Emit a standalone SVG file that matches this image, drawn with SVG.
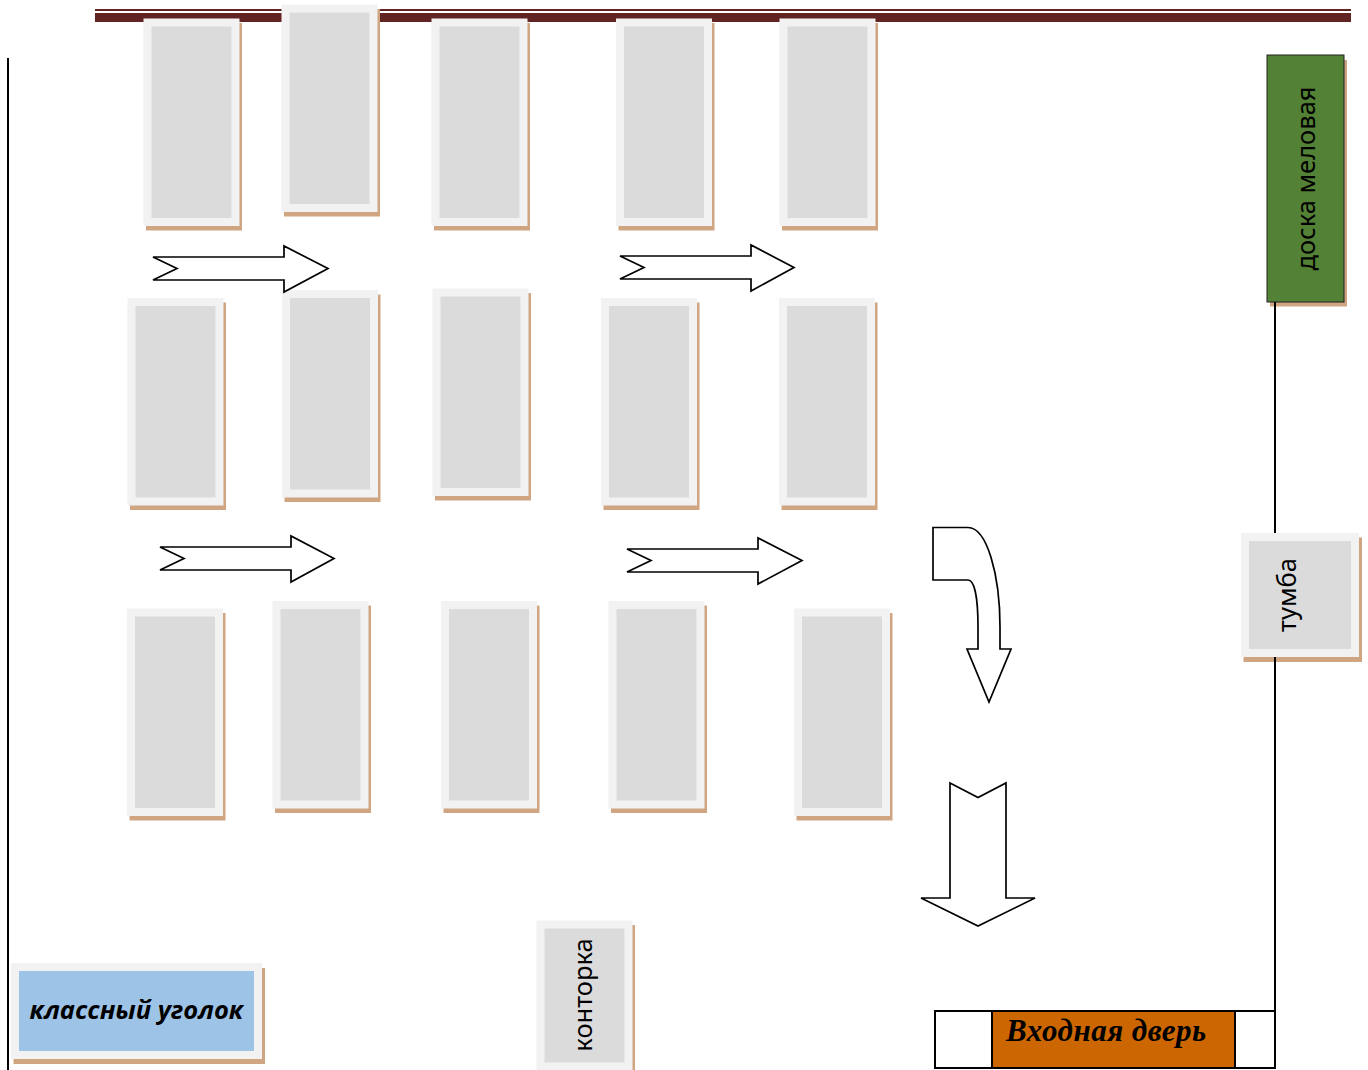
<svg xmlns="http://www.w3.org/2000/svg" width="1368" height="1070" viewBox="0 0 1368 1070">
<style>
.sh{fill:#cfa582}
.ou{fill:#f2f2f2}
.in{fill:#dbdbdb}
.ar{fill:#fff;stroke:#000;stroke-width:1.700;stroke-linejoin:miter}
.wall{fill:none;stroke:#000;stroke-width:2}
.lb{font-family:"Noto Sans","Open Sans",sans-serif;font-size:25.500px;fill:#000}
</style>
<defs>
<g id="desk">
<rect class="sh" x="2.500" y="4.500" width="96" height="207.500"/>
<rect class="ou" width="96" height="207.500"/>
<rect class="in" x="8" y="8" width="80" height="191.500"/>
</g>
</defs>
<rect width="1368" height="1070" fill="#fff"/>
<g id="top-wall">
<rect x="95" y="9" width="1256" height="2" fill="#622423"/>
<rect x="95" y="13" width="1256" height="9" fill="#622423"/>
</g>
<g id="desk-1-1"><use href="#desk" x="143.500" y="18.500"/></g>
<g id="desk-1-2"><use href="#desk" x="281.500" y="4.500"/></g>
<g id="desk-1-3"><use href="#desk" x="431.500" y="18.500"/></g>
<g id="desk-1-4"><use href="#desk" x="616" y="18.500"/></g>
<g id="desk-1-5"><use href="#desk" x="779.500" y="18.500"/></g>
<g id="desk-2-1"><use href="#desk" x="127.500" y="298"/></g>
<g id="desk-2-2"><use href="#desk" x="282" y="290"/></g>
<g id="desk-2-3"><use href="#desk" x="432.500" y="288.500"/></g>
<g id="desk-2-4"><use href="#desk" x="601" y="298"/></g>
<g id="desk-2-5"><use href="#desk" x="779" y="298"/></g>
<g id="desk-3-1"><use href="#desk" x="127" y="608.500"/></g>
<g id="desk-3-2"><use href="#desk" x="272.500" y="601"/></g>
<g id="desk-3-3"><use href="#desk" x="441" y="601"/></g>
<g id="desk-3-4"><use href="#desk" x="608.500" y="601"/></g>
<g id="desk-3-5"><use href="#desk" x="794" y="608.500"/></g>
<g id="board">
<rect class="sh" x="1270" y="60" width="77" height="246.500"/>
<rect x="1267" y="55" width="77" height="247" fill="#538135" stroke="#222" stroke-width="1"/>
<text class="lb" transform="translate(1315 178.500) rotate(-90)" text-anchor="middle">доска меловая</text>
</g>
<g id="tumba">
<rect class="sh" x="1243.500" y="537.500" width="118.500" height="124.500"/>
<rect class="ou" x="1241" y="533" width="118" height="124"/>
<rect class="in" x="1249" y="541" width="102" height="108"/>
<text class="lb" transform="translate(1296 595) rotate(-90)" text-anchor="middle">тумба</text>
</g>
<g id="kontorka">
<rect class="sh" x="539" y="925" width="96" height="150"/>
<rect class="ou" x="536.500" y="920.500" width="96" height="150"/>
<rect class="in" x="544.500" y="928.500" width="80" height="134"/>
<text class="lb" transform="translate(592 995) rotate(-90)" text-anchor="middle">конторка</text>
</g>
<g id="corner">
<rect class="sh" x="13.500" y="968" width="251.500" height="96"/>
<rect class="ou" x="11" y="963" width="251" height="96"/>
<rect x="19" y="971" width="235" height="80" fill="#9dc3e6"/>
<text transform="translate(136.500 1019)" text-anchor="middle" font-family="Open Sans, Noto Sans, sans-serif" font-weight="700" font-style="italic" font-size="25.500">классный уголок</text>
</g>
<g id="door">
<rect x="935" y="1011" width="340" height="57" fill="#fff" stroke="#000" stroke-width="2"/>
<rect x="992" y="1011" width="243" height="57" fill="#cc6600" stroke="#000" stroke-width="2"/>
<text x="1006" y="1041" font-family="Liberation Serif, serif" font-weight="700" font-style="italic" font-size="31" letter-spacing="0.500">Входная дверь</text>
</g>
<g id="walls">
<path class="wall" d="M8 58V1070"/>
<path class="wall" d="M1275 302V533M1275 657V1011"/>
</g>
<g id="connectors">
<path class="ar" d="M153 257L177 268.500L153 280H284V292L328 268.500L284 246V257Z"/>
<path class="ar" d="M620 256L644 267.500L620 279H751V291L794 267.500L751 245V256Z"/>
<path class="ar" d="M160 547L184 558.500L160 570H291V582L334 558.500L291 536V547Z"/>
<path class="ar" d="M627 549L651 560.500L627 572H758V584L802 560.500L758 538V549Z"/>
<path class="ar" d="M933 527.500H968C987 527.500 1000 575 1000 627V649H1011L989 702L967 649H978V627C978 600 975 580 968 580H933Z"/>
<path class="ar" d="M950 783L978 797.500L1006 783V898H1035L978 926L921 898H950Z"/>
</g>
</svg>
